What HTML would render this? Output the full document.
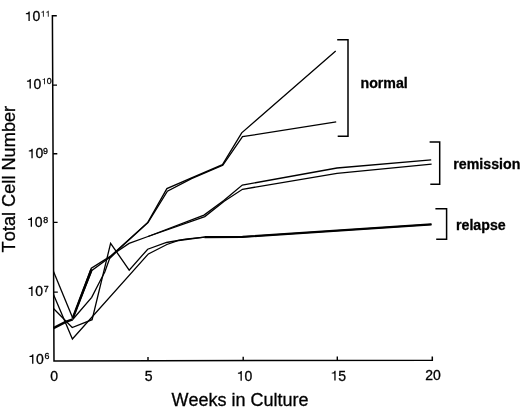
<!DOCTYPE html>
<html><head><meta charset="utf-8"><title>Total Cell Number vs Weeks in Culture</title>
<style>
html,body{margin:0;padding:0;background:#fff;width:520px;height:407px;overflow:hidden}
svg{display:block;filter:grayscale(1)}
text{font-family:"Liberation Sans",sans-serif;fill:#000;font-kerning:none;stroke:#000;stroke-width:0.3px}
use{stroke:#000;stroke-width:0.3px}
.ax{font-size:18px}
.gl{font-size:14.2px;font-weight:bold}
</style></head>
<body>
<svg width="520" height="407" viewBox="0 0 520 407">
<defs><path id="one" d="M556 0L746 0L746 1409L598 1409Q566 1290 478 1222Q390 1156 176 1146L176 1010L556 1010Z"/></defs>
<g fill="none" stroke="#000" stroke-linejoin="miter" stroke-linecap="butt">
<!-- axes -->
<path d="M56.8 15.7 H52.4 L54 361 L432.3 360.2 V356.5" stroke-width="1.5"/>
<!-- y ticks -->
<path d="M52.7 85.1 H57 M53.1 153.7 H57.3 M53.4 222.4 H57.6 M53.6 292.1 H57.8" stroke-width="1.4"/>
<!-- x ticks -->
<path d="M148 360.8 V357 M243.2 360.6 V356.8 M337.3 360.4 V356.6" stroke-width="1.4"/>
<!-- brackets -->
<path d="M337.2 39.8 H348 V136.3 H337.7" stroke-width="1.5"/>
<path d="M429.6 141.9 H439.7 V184.2 H430.3" stroke-width="1.5"/>
<path d="M435.4 208.8 H446.6 V239.3 H436.2" stroke-width="1.5"/>
<!-- data lines -->
<g stroke-width="1.3">
<path d="M53.5 271.5 L72.7 318"/>
<path d="M53.5 328.1 L65.7 321.9 L72.7 319.3" stroke-width="2.4"/>
<path d="M72.7 318.4 L91.5 269.3" stroke-width="2.4"/>
<path d="M53.5 294.5 L72.4 339 L148.4 253.9 L166.9 244.5 L178.6 240.5 L204.5 237.1"/>
<path d="M53.5 308.5 L72.2 327.5 L92.1 319.7 L110.6 243.3 L129.2 270.1 L147.7 249.2 L166.5 242.5 L185.4 239.1 L204.5 237.1 L242.5 236.9 L431.5 224.4"/>
<path d="M204.5 237.1 L242.5 236.9 L431.5 224.4" stroke-width="2.2"/>
<path d="M72.7 318 L91.3 268.2 L110.2 256.4 L147.8 222.4 L166.9 188.6 L191 178.2 L222.5 164.7 L241.7 132.8 L335.7 51.1"/>
<path d="M72.7 318.6 L91.9 270.5 L110.5 256.8 L148 222.6 L167.4 191.2 L191.5 178.7 L222.8 165.3 L242.5 136.7 L336.2 121.9"/>
<path d="M72.7 319.5 L91.7 297.3 L99.8 281.5 L104.8 272 L109.6 258.5 L116 252.3 L129.1 243.4 L148 236.5 L204 215.1 L223.8 200.5 L242.3 185.1 L337 168 L431.2 159.8"/>
<path d="M148 236.5 L204.8 216.6 L224.2 201.2 L242.5 189.3 L337 173.3 L431.6 164.1"/>
</g>
</g>
<g fill="#000">
<use href="#one" transform="translate(24.65 21.10) scale(0.006836 -0.006836)"/>
<text x="32.44" y="21.10" style="font-size:14.0px">0</text>
<use href="#one" transform="translate(40.55 16.80) scale(0.004297 -0.004297)"/>
<use href="#one" transform="translate(45.44 16.80) scale(0.004297 -0.004297)"/>
<use href="#one" transform="translate(25.75 88.60) scale(0.006836 -0.006836)"/>
<text x="33.54" y="88.60" style="font-size:14.0px">0</text>
<use href="#one" transform="translate(41.75 84.20) scale(0.004297 -0.004297)"/>
<text x="46.64" y="84.20" style="font-size:8.8px">0</text>
<use href="#one" transform="translate(27.60 158.30) scale(0.006836 -0.006836)"/>
<text x="35.39" y="158.30" style="font-size:14.0px">0</text>
<text x="43.00" y="154.40" style="font-size:8.8px">9</text>
<use href="#one" transform="translate(26.90 226.80) scale(0.006836 -0.006836)"/>
<text x="34.69" y="226.80" style="font-size:14.0px">0</text>
<text x="43.30" y="222.80" style="font-size:8.8px">8</text>
<use href="#one" transform="translate(27.45 295.90) scale(0.006836 -0.006836)"/>
<text x="35.24" y="295.90" style="font-size:14.0px">0</text>
<text x="43.75" y="291.70" style="font-size:8.8px">7</text>
<use href="#one" transform="translate(28.30 363.80) scale(0.006836 -0.006836)"/>
<text x="36.09" y="363.80" style="font-size:14.0px">0</text>
<text x="44.55" y="359.10" style="font-size:8.8px">6</text>
<text x="50.16" y="381.10" style="font-size:14.0px">0</text>
<text x="144.71" y="380.90" style="font-size:14.0px">5</text>
<use href="#one" transform="translate(236.71 380.70) scale(0.006836 -0.006836)"/>
<text x="244.50" y="380.70" style="font-size:14.0px">0</text>
<use href="#one" transform="translate(330.51 380.50) scale(0.006836 -0.006836)"/>
<text x="338.30" y="380.50" style="font-size:14.0px">5</text>
<text x="425.21" y="380.30" style="font-size:14.0px">2</text>
<text x="433.00" y="380.30" style="font-size:14.0px">0</text>
</g>
<!-- axis titles -->
<text class="ax" x="240" y="406" text-anchor="middle">Weeks in Culture</text>
<text class="ax" transform="translate(15.3 179.1) rotate(-90)" text-anchor="middle" style="font-size:18.2px">Total Cell Number</text>
<!-- group labels -->
<text class="gl" x="360.5" y="87.5">normal</text>
<text class="gl" x="453.3" y="168.7">remission</text>
<text class="gl" x="456" y="229.8">relapse</text>
</svg>
</body></html>
